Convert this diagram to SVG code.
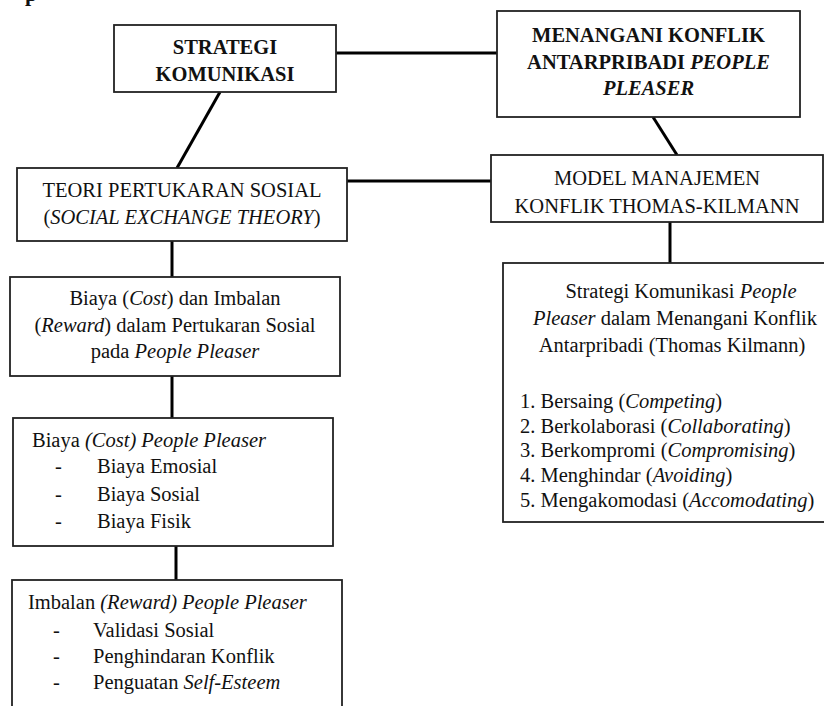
<svg xmlns="http://www.w3.org/2000/svg" width="824" height="706" viewBox="0 0 824 706">
<style>
text{font-family:"Liberation Serif","Times New Roman",serif;font-size:20.5px;fill:#111}
.b{font-weight:bold}
.i{font-style:italic}
.c{text-anchor:middle}
.box{fill:#fff;stroke:#222;stroke-width:1.8}
.con{stroke:#000;stroke-width:3;fill:none}
</style>
<rect width="824" height="706" fill="#fff"/>
<text x="25" y="0.5" class="b" style="font-size:22px">p</text>
<g id="connectors">
<line class="con" x1="336" y1="53" x2="497" y2="53"/>
<line class="con" x1="220" y1="92" x2="177" y2="168"/>
<line class="con" x1="653" y1="117" x2="677" y2="155"/>
<line class="con" x1="347" y1="181" x2="491" y2="181"/>
<line class="con" x1="172" y1="241" x2="172" y2="277"/>
<line class="con" x1="172" y1="376" x2="172" y2="418"/>
<line class="con" x1="176" y1="546" x2="176" y2="580"/>
<line class="con" x1="670" y1="222" x2="670" y2="263"/>
</g>
<g id="strategi">
<rect class="box" x="114" y="25" width="222" height="67"/>
<text class="b c" x="225" y="54">STRATEGI</text>
<text class="b c" x="225" y="81">KOMUNIKASI</text>
</g>
<g id="menangani">
<rect class="box" x="497" y="11" width="303" height="106"/>
<text class="b c" x="648.5" y="42">MENANGANI KONFLIK</text>
<text class="b c" x="648.5" y="69">ANTARPRIBADI <tspan class="i">PEOPLE</tspan></text>
<text class="b i c" x="648.5" y="95">PLEASER</text>
</g>
<g id="teori">
<rect class="box" x="17" y="168" width="330" height="73"/>
<text class="c" x="182" y="197">TEORI PERTUKARAN SOSIAL</text>
<text class="c" x="182" y="224">(<tspan class="i">SOCIAL EXCHANGE THEORY</tspan>)</text>
</g>
<g id="model">
<rect class="box" x="491" y="155" width="332" height="67"/>
<text class="c" x="657" y="185">MODEL MANAJEMEN</text>
<text class="c" x="657" y="213">KONFLIK THOMAS-KILMANN</text>
</g>
<g id="biaya-imbalan">
<rect class="box" x="10" y="277" width="330" height="99"/>
<text class="c" x="175" y="305">Biaya (<tspan class="i">Cost</tspan>) dan Imbalan</text>
<text class="c" x="175" y="332">(<tspan class="i">Reward</tspan>) dalam Pertukaran Sosial</text>
<text class="c" x="175" y="358">pada <tspan class="i">People Pleaser</tspan></text>
</g>
<g id="strategi-pp">
<rect class="box" x="503" y="263" width="330" height="259"/>
<text class="c" x="681" y="298">Strategi Komunikasi <tspan class="i">People</tspan></text>
<text class="c" x="675" y="325"><tspan class="i">Pleaser</tspan> dalam Menangani Konflik</text>
<text class="c" x="672" y="352">Antarpribadi (Thomas Kilmann)</text>
<text x="520" y="408">1. Bersaing (<tspan class="i">Competing</tspan>)</text>
<text x="520" y="433">2. Berkolaborasi (<tspan class="i">Collaborating</tspan>)</text>
<text x="520" y="457">3. Berkompromi (<tspan class="i">Compromising</tspan>)</text>
<text x="520" y="482">4. Menghindar (<tspan class="i">Avoiding</tspan>)</text>
<text x="520" y="507">5. Mengakomodasi (<tspan class="i">Accomodating</tspan>)</text>
</g>
<g id="biaya">
<rect class="box" x="13" y="418" width="320" height="128"/>
<text x="32" y="447">Biaya <tspan class="i">(Cost) People Pleaser</tspan></text>
<text x="55" y="473">-</text><text x="97" y="473">Biaya Emosial</text>
<text x="55" y="501">-</text><text x="97" y="501">Biaya Sosial</text>
<text x="55" y="528">-</text><text x="97" y="528">Biaya Fisik</text>
</g>
<g id="imbalan">
<rect class="box" x="12" y="580" width="330" height="140"/>
<text x="28" y="609">Imbalan <tspan class="i">(Reward) People Pleaser</tspan></text>
<text x="53" y="637">-</text><text x="93" y="637">Validasi Sosial</text>
<text x="53" y="663">-</text><text x="93" y="663">Penghindaran Konflik</text>
<text x="53" y="689">-</text><text x="93" y="689">Penguatan <tspan class="i">Self-Esteem</tspan></text>
</g>
</svg>
